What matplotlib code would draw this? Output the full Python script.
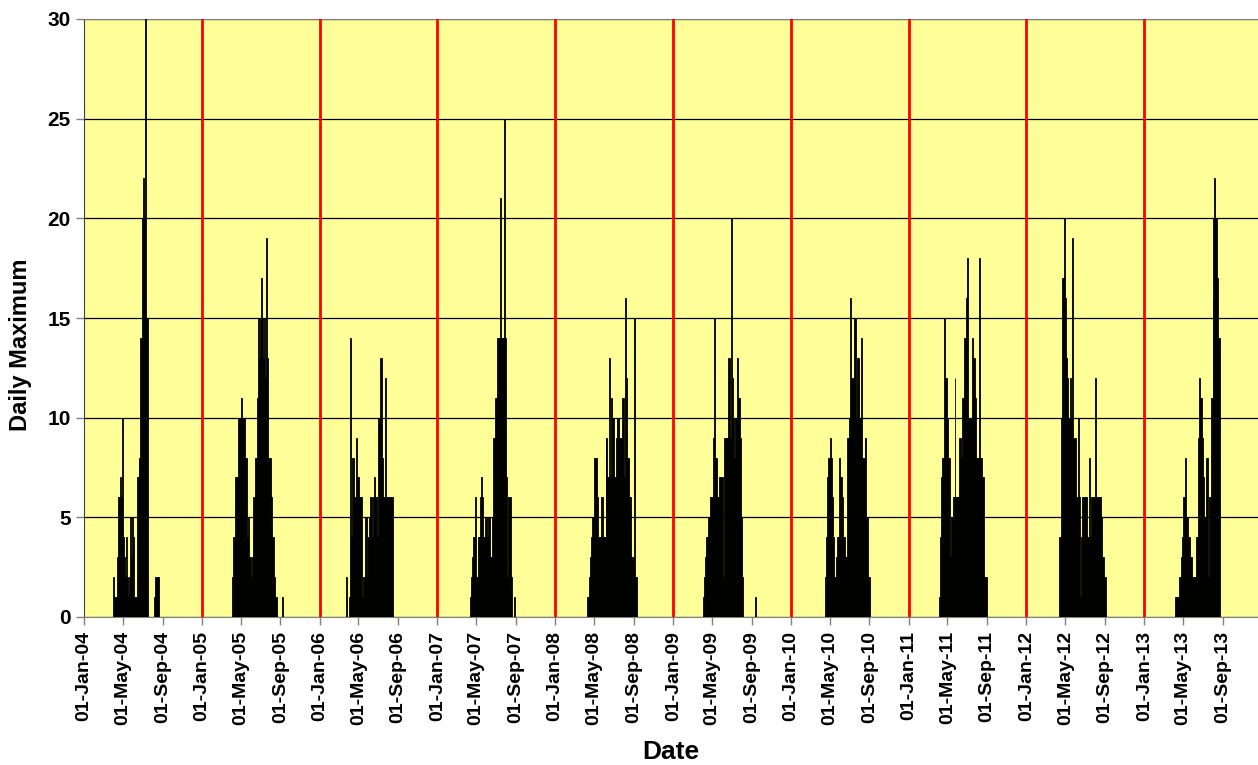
import numpy as np
import pandas as pd
import matplotlib
matplotlib.use("Agg")
import matplotlib.pyplot as plt
import matplotlib.dates as mdates

plt.rcParams['font.family'] = ['Liberation Sans', 'DejaVu Sans']
plt.rcParams['font.weight'] = 'bold'

### Data (daily maximum, read in 3-day blocks from the original chart) ###
step_days = 3

start_2004 = "2004-04-01"
vals_2004 = [2, 1, 1, 1, 3, 6, 6, 7, 6, 10, 4, 3, 2, 4, 2, 1, 2, 5, 3, 5, 4, 1, 1, 1,
             7, 7, 8, 8, 14, 14, 20, 22, 20, 30, 15, 15, 0, 0, 0, 0, 0, 0, 1, 2, 2, 2, 2]

start_2005 = "2005-04-05"
vals_2005 = [2, 4, 4, 7, 7, 7, 10, 10, 10, 11, 10, 10, 10, 8, 8, 4, 5, 3, 3, 2, 3, 6, 6,
             8, 8, 11, 11, 15, 13, 15, 17, 15, 13, 15, 12, 19, 13, 8, 8, 8, 6, 4, 4, 2, 1,
             1, 0, 0, 0, 0, 0, 1]

start_2006 = "2006-03-24"
vals_2006 = [2, 0, 0, 1, 14, 4, 8, 8, 6, 6, 9, 7, 7, 6, 6, 6, 1, 2, 2, 5, 5, 2, 4, 4, 5,
             6, 6, 4, 6, 7, 6, 6, 4, 10, 10, 13, 13, 8, 6, 6, 12, 6, 6, 6, 6, 6, 6, 6]

start_2007 = "2007-04-12"
vals_2007 = [1, 2, 3, 4, 4, 6, 2, 2, 4, 4, 6, 7, 6, 4, 4, 5, 5, 4, 4, 5, 5, 3, 3, 5, 9,
             9, 11, 11, 14, 14, 14, 21, 14, 14, 14, 25, 14, 7, 2, 6, 6, 6, 2, 0, 0, 1]

start_2008 = "2008-04-09"
vals_2008 = [1, 1, 2, 3, 4, 5, 5, 8, 8, 8, 6, 4, 4, 4, 6, 6, 4, 4, 4, 9, 9, 7, 7, 13, 7,
             11, 10, 10, 7, 7, 9, 10, 10, 9, 9, 9, 11, 11, 7, 16, 12, 8, 8, 6, 6, 3, 3, 3,
             15, 2, 2, 2]

start_2009 = "2009-04-04"
vals_2009 = [1, 2, 3, 4, 4, 5, 5, 6, 6, 6, 9, 15, 8, 8, 6, 6, 7, 7, 7, 7, 2, 9, 9, 1, 9,
             9, 13, 13, 9, 20, 12, 10, 8, 10, 10, 13, 11, 11, 9, 5, 2, 0, 0, 0, 0, 0, 0,
             0, 0, 0, 0, 0, 0, 1]

start_2010 = "2010-04-16"
vals_2010 = [2, 4, 7, 8, 8, 9, 8, 6, 4, 2, 2, 2, 3, 4, 4, 8, 7, 7, 6, 4, 4, 3, 3, 9, 9,
             10, 16, 12, 12, 12, 15, 15, 10, 13, 13, 10, 10, 14, 8, 8, 8, 9, 9, 5, 5, 2, 2]

start_2011 = "2011-04-05"
vals_2011 = [1, 4, 7, 8, 8, 15, 12, 12, 10, 8, 8, 3, 5, 5, 6, 6, 12, 6, 6, 6, 6, 9, 9, 8,
             11, 11, 14, 14, 16, 18, 10, 10, 10, 10, 14, 13, 13, 11, 8, 8, 8, 18, 8, 8, 7,
             7, 2, 2, 2, 2]

start_2012 = "2012-04-12"
vals_2012 = [4, 4, 10, 17, 17, 20, 16, 13, 12, 10, 10, 12, 10, 19, 9, 9, 9, 6, 6, 10, 6,
             1, 4, 6, 6, 6, 6, 6, 6, 4, 4, 8, 4, 6, 6, 6, 6, 12, 6, 6, 6, 6, 6, 5, 3, 3,
             2, 2]

start_2013 = "2013-04-05"
vals_2013 = [1, 1, 1, 1, 2, 2, 3, 4, 4, 6, 6, 8, 5, 5, 4, 4, 3, 3, 2, 2, 2, 2, 4, 4, 9,
             12, 11, 11, 9, 7, 5, 5, 8, 8, 2, 6, 6, 11, 11, 16, 20, 22, 20, 20, 17, 14, 14]

season_starts = [start_2004, start_2005, start_2006, start_2007, start_2008,
                 start_2009, start_2010, start_2011, start_2012, start_2013]
season_vals = [vals_2004, vals_2005, vals_2006, vals_2007, vals_2008,
               vals_2009, vals_2010, vals_2011, vals_2012, vals_2013]

year_marks = ["2005-01-01", "2006-01-01", "2007-01-01", "2008-01-01", "2009-01-01",
              "2010-01-01", "2011-01-01", "2012-01-01", "2013-01-01"]

### Build series ###
frames = []
for s, v in zip(season_starts, season_vals):
    d = pd.date_range(s, periods=len(v), freq=f"{step_days}D")
    frames.append(pd.DataFrame({"date": d, "max": v}))
daily = pd.concat(frames, ignore_index=True)

### Plot ###
fig = plt.figure(figsize=(12.58, 7.65), dpi=100)
ax = fig.add_axes([84 / 1258, 1 - 617 / 765, 1 - 84 / 1258, (617 - 19) / 765])
ax.set_facecolor("#FFFF99")

ax.bar(daily["date"], daily["max"], width=step_days, align="edge",
       color="black", edgecolor="black", linewidth=0.6, zorder=3)

for ym in year_marks:
    ax.axvline(pd.Timestamp(ym), color="#FF0000", lw=2, zorder=4)

ax.set_ylim(0, 30)
ax.set_yticks(np.arange(0, 31, 5))
ax.yaxis.grid(True, color="black", lw=0.9, zorder=1)
ax.set_axisbelow(True)

ax.set_xlim(pd.Timestamp("2004-01-01"), pd.Timestamp("2004-01-01") + pd.Timedelta(days=3640))
ax.xaxis.set_major_locator(mdates.MonthLocator(bymonth=[1, 5, 9], bymonthday=1))
ax.xaxis.set_major_formatter(mdates.DateFormatter("%d-%b-%y"))
plt.setp(ax.get_xticklabels(), rotation=90, fontsize=14, fontweight="bold")
plt.setp(ax.get_yticklabels(), fontsize=15, fontweight="bold")
ax.tick_params(axis="both", direction="out", length=6, width=1, colors="#808080",
               labelcolor="black")
ax.tick_params(axis="x", pad=4)

ax.spines["top"].set_color("#808080")
ax.spines["right"].set_visible(False)
ax.spines["left"].set_color("#404040")
ax.spines["bottom"].set_color("#808080")

ax.set_ylabel("Daily Maximum", fontsize=17, fontweight="bold")
ax.yaxis.set_label_coords(-0.044, 0.455)
ax.set_xlabel("Date", fontsize=19, fontweight="bold")
ax.xaxis.set_label_coords(0.5, -0.205)

fig.savefig("out.png", dpi=100)
